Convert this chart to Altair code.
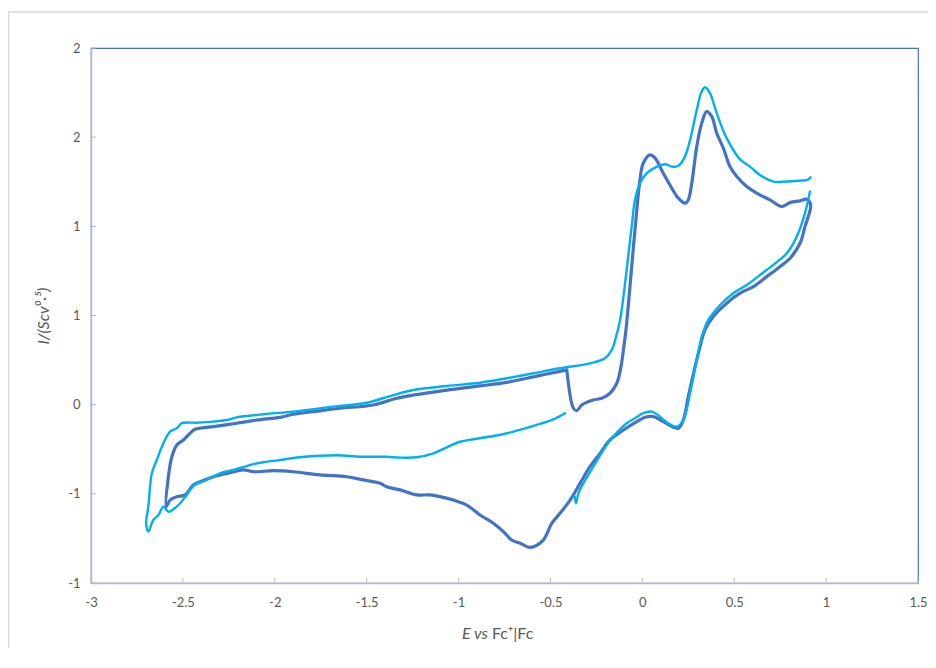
import altair as alt
import pandas as pd

# ---- data (E vs Fc+|Fc, I/(Scv^0.5)) ----
dark_E = [-0.411, -0.375, -0.357, -0.330, -0.268, -0.221, -0.176, -0.139, -0.116, -0.103,
          -0.089, -0.040, -0.013, 0.005, 0.042, 0.069, 0.114, 0.160, 0.196, 0.232,
          0.250, 0.269, 0.296, 0.323, 0.350, 0.378, 0.405, 0.441, 0.477, 0.514,
          0.568, 0.622, 0.695, 0.758, 0.804, 0.858, 0.894, 0.916,
          0.885, 0.858, 0.804, 0.749, 0.677, 0.604, 0.532, 0.459, 0.386, 0.341,
          0.314, 0.287, 0.250, 0.223, 0.196, 0.160, 0.114, 0.060, 0.015, -0.030,
          -0.103, -0.176, -0.230, -0.285, -0.339, -0.393, -0.448, -0.493, -0.539, -0.611,
          -0.665, -0.711, -0.756, -0.811, -0.883, -0.955, -1.028, -1.101, -1.155, -1.227,
          -1.318, -1.391, -1.427, -1.518, -1.608, -1.754, -1.899, -2.008, -2.116, -2.171,
          -2.243, -2.334, -2.406, -2.443, -2.488, -2.533, -2.570, -2.591,
          -2.579, -2.560, -2.533, -2.497, -2.461, -2.434, -2.334, -2.207, -2.098, -1.971,
          -1.899, -1.790, -1.645, -1.464, -1.336, -1.246, -1.064, -0.883, -0.738, -0.629,
          -0.520, -0.411]
dark_I = [0.195, -0.020, -0.034, -0.002, 0.026, 0.036, 0.064, 0.120, 0.213, 0.307,
          0.419, 0.980, 1.260, 1.354, 1.401, 1.384, 1.298, 1.214, 1.158, 1.130,
          1.148, 1.242, 1.447, 1.578, 1.643, 1.615, 1.522, 1.438, 1.335, 1.279,
          1.223, 1.186, 1.148, 1.111, 1.133, 1.143, 1.152, 1.120,
          0.998, 0.905, 0.821, 0.774, 0.718, 0.662, 0.625, 0.569, 0.494, 0.419,
          0.325, 0.213, 0.045, -0.086, -0.132, -0.123, -0.095, -0.067, -0.071, -0.095,
          -0.142, -0.198, -0.273, -0.348, -0.441, -0.535, -0.609, -0.665, -0.759, -0.800,
          -0.777, -0.759, -0.712, -0.665, -0.619, -0.563, -0.535, -0.516, -0.506, -0.506,
          -0.478, -0.460, -0.441, -0.422, -0.404, -0.394, -0.376, -0.370, -0.376, -0.366,
          -0.381, -0.404, -0.432, -0.450, -0.506, -0.516, -0.535, -0.572,
          -0.404, -0.292, -0.226, -0.198, -0.160, -0.138, -0.123, -0.104, -0.086, -0.071,
          -0.054, -0.039, -0.020, -0.002, 0.036, 0.054, 0.082, 0.105, 0.125, 0.148,
          0.172, 0.195]

light_a_E = [-0.421, -0.484, -0.593, -0.702, -0.811, -0.919, -0.992, -1.064, -1.137, -1.227,
             -1.318, -1.391, -1.536, -1.663, -1.862, -1.971, -2.116, -2.225, -2.298, -2.370,
             -2.443, -2.479, -2.515, -2.552, -2.579, -2.606, -2.633, -2.661, -2.688, -2.700,
             -2.688, -2.669, -2.642, -2.606, -2.570, -2.533, -2.506, -2.424, -2.334, -2.261,
             -2.207, -2.044, -1.899, -1.681, -1.499, -1.355, -1.246, -1.064, -0.883, -0.738,
             -0.593, -0.448, -0.285, -0.203, -0.166, -0.143, -0.121, -0.105, -0.058, -0.040,
             -0.013, 0.024, 0.069, 0.124, 0.160, 0.196, 0.232, 0.260, 0.296, 0.323,
             0.341, 0.368, 0.405, 0.450, 0.495, 0.532, 0.586, 0.640, 0.713, 0.786,
             0.858, 0.898, 0.916]
light_a_I = [-0.048, -0.082, -0.119, -0.151, -0.176, -0.194, -0.208, -0.239, -0.273, -0.295,
             -0.297, -0.292, -0.292, -0.284, -0.295, -0.310, -0.333, -0.366, -0.385, -0.422,
             -0.456, -0.506, -0.553, -0.587, -0.600, -0.572, -0.619, -0.647, -0.712, -0.665,
             -0.572, -0.385, -0.310, -0.216, -0.151, -0.132, -0.104, -0.101, -0.095, -0.086,
             -0.071, -0.052, -0.039, -0.011, 0.011, 0.054, 0.082, 0.105, 0.123, 0.148,
             0.176, 0.204, 0.232, 0.260, 0.307, 0.381, 0.475, 0.587, 0.998, 1.148,
             1.242, 1.298, 1.329, 1.348, 1.335, 1.340, 1.391, 1.485, 1.653, 1.756,
             1.780, 1.747, 1.634, 1.513, 1.428, 1.376, 1.335, 1.288, 1.251, 1.251,
             1.256, 1.260, 1.275]

light_b_E = [0.912, 0.885, 0.840, 0.786, 0.713, 0.640, 0.568, 0.495, 0.423, 0.359,
             0.323, 0.296, 0.260, 0.223, 0.187, 0.141, 0.096, 0.051, 0.005, -0.040,
             -0.085, -0.158, -0.212, -0.267, -0.321, -0.348, -0.361, -0.368]
light_b_I = [1.195, 1.073, 0.942, 0.849, 0.784, 0.727, 0.671, 0.625, 0.559, 0.475,
             0.381, 0.251, 0.064, -0.086, -0.123, -0.104, -0.067, -0.039, -0.048, -0.076,
             -0.104, -0.179, -0.254, -0.348, -0.441, -0.497, -0.553, -0.516]

x_ticks = [-3, -2.5, -2, -1.5, -1, -0.5, 0, 0.5, 1, 1.5]
y_ticks = [-1, -0.5, 0, 0.5, 1, 1.5, 2]

x_title_italic = "E vs"
x_title_plain = "Fc\u207a|Fc"
y_title = "I/(Scv\u2070\u00b7\u2075)"

# ---- build tables ----
def make_df(xs, ys, seg):
    return pd.DataFrame({"E": xs, "I": ys, "seg": seg, "i": list(range(len(xs)))})

dark_df = make_df(dark_E, dark_I, "d")
light_df = pd.concat([make_df(light_a_E, light_a_I, "a"),
                      make_df(light_b_E, light_b_I, "b")], ignore_index=True)
xt_df = pd.DataFrame({"E": x_ticks})
yt_df = pd.DataFrame({"I": y_ticks})

W, H = 827, 535
FONT = "Lato"
GREY_TXT = "#595959"
AXIS_GREY = "#B4BBC8"

xscale = alt.Scale(domain=[-3, 1.5], nice=False, zero=False)
yscale = alt.Scale(domain=[-1, 2], nice=False, zero=False)

x_axis = alt.Axis(values=x_ticks, title=None, grid=False, ticks=False,
                  labelExpr="(datum.value < 0 ? '-' : '') + abs(datum.value)",
                  labelFlush=False, labelOverlap=False, labelPadding=13,
                  domainColor=AXIS_GREY, domainWidth=1.5)
y_axis = alt.Axis(values=y_ticks, title=y_title, grid=False, ticks=False,
                  labelExpr="(datum.value < 0 ? '-' : '') + floor(abs(datum.value) + 0.5)",
                  labelFlush=False, labelOverlap=False, labelPadding=11,
                  domainColor=AXIS_GREY, domainWidth=1.5,
                  titleFontStyle="italic", titlePadding=16)

X = alt.X("E:Q", scale=xscale, axis=x_axis)
Y = alt.Y("I:Q", scale=yscale, axis=y_axis)

dark = alt.Chart(dark_df).mark_line(color="#4472C4", strokeWidth=3.2,
                                    interpolate="catmull-rom",
                                    strokeJoin="round", strokeCap="round").encode(
    x=X, y=Y, detail="seg:N", order="i:Q")

light = alt.Chart(light_df).mark_line(color="#00B0F0", strokeWidth=2.4,
                                      interpolate="catmull-rom",
                                      strokeJoin="round", strokeCap="round").encode(
    x=X, y=Y, detail="seg:N", order="i:Q")

ytick_rules = alt.Chart(yt_df).mark_rule(color=AXIS_GREY, strokeWidth=1).encode(
    y=Y, x=alt.value(0), x2=alt.value(5))

xtick_rules = alt.Chart(xt_df).mark_rule(color=AXIS_GREY, strokeWidth=1).encode(
    x=X, y=alt.value(H), y2=alt.value(H - 5))

title_it = alt.Chart(pd.DataFrame({"t": [x_title_italic]})).mark_text(
    align="right", baseline="middle", font=FONT, fontSize=16, fontStyle="italic",
    color=GREY_TXT).encode(text="t:N", x=alt.value(397), y=alt.value(586))
title_pl = alt.Chart(pd.DataFrame({"t": [x_title_plain]})).mark_text(
    align="left", baseline="middle", font=FONT, fontSize=16,
    color=GREY_TXT).encode(text="t:N", x=alt.value(401), y=alt.value(586))

frame_top = alt.Chart(pd.DataFrame({"k": [0]})).mark_rule(
    color="#D9D9D9", strokeWidth=1.5).encode(
    x=alt.value(-83), x2=alt.value(837), y=alt.value(-36))
frame_left = alt.Chart(pd.DataFrame({"k": [0]})).mark_rule(
    color="#D9D9D9", strokeWidth=1.5).encode(
    x=alt.value(-82.5), y=alt.value(-36), y2=alt.value(612))

chart = alt.layer(
    frame_top, frame_left, ytick_rules, xtick_rules, dark, light, title_it, title_pl
).properties(
    width=W, height=H,
    autosize=alt.AutoSizeParams(type="none"),
    padding={"left": 83, "top": 40, "right": 10, "bottom": 65},
    background="white",
).configure_view(
    stroke="#4472C4", strokeWidth=1.2
).configure_axis(
    labelFont=FONT, labelFontSize=13, labelColor=GREY_TXT,
    titleFont=FONT, titleFontSize=16, titleColor=GREY_TXT, titleFontWeight="normal",
)

chart.save("out.html", embed_options={"renderer": "svg", "actions": False})
